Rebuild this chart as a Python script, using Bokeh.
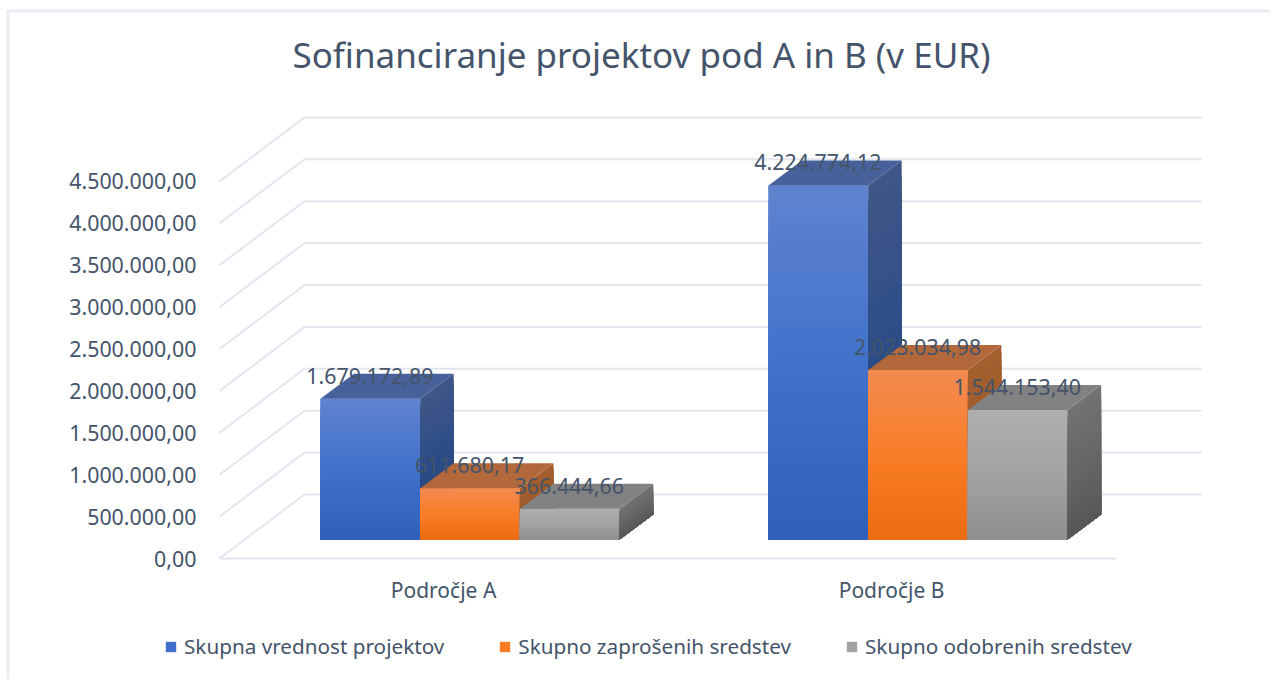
from bokeh.plotting import figure
from bokeh.embed import file_html
from bokeh.resources import INLINE
from bokeh.models import (Range1d, LinearAxis, FixedTicker, Label, Legend, LegendItem)
from bokeh.core.properties import value
import numpy as np

# ---------- data ----------
categories = ["Področje A", "Področje B"]
series_names = ["Skupna vrednost projektov", "Skupno zaprošenih sredstev", "Skupno odobrenih sredstev"]
vrednost = [1679172.89, 4224774.12]
zaprosena = [611680.17, 2023034.98]
odobrena = [366444.66, 1544153.40]
series_values = [vrednost, zaprosena, odobrena]
y_ticks = [0, 500000, 1000000, 1500000, 2000000, 2500000, 3000000, 3500000, 4000000, 4500000]

# ---------- layout (x and FLOOR_Y are in window pixels) ----------
PAGE = 0
W, H = 1270, 679
PX = 500000 / 41.9          # value units per screen pixel
FLOOR_Y = 558               # window y of value 0 at the front edge
FONT = "Noto Sans"
TXT = "#44546a"
GRID = "#e3e6ef"
GX0, GX1 = 219, 1116        # front edge of floor
DX, DY = 85, 64             # depth of the wall
BAR_W = 99.7
BAR_DX, BAR_DY = 33.5, 25   # depth of a bar
BASE = 19 * PX              # bars stand 19px behind the front edge
GROUP_LEFT = [320, 768]
CAT_SHIFT = 25.5
Y_TOP = (FLOOR_Y - PAGE) * PX
Y_BOT = -(PAGE + H - FLOOR_Y) * PX

FRONT = [("#5f82cf", "#3f71cb", "#2e60b8"), ("#f28b50", "#f97c26", "#e96c12"), ("#aeaeae", "#a2a2a2", "#8e8e8e")]
SIDE = [("#3f5788", "#2c4c88", "#25447c"), ("#a4602f", "#9a5727", "#8d4e20"), ("#727272", "#666666", "#565656")]
TOP = ["#47619b", "#b3683c", "#828282"]
MID = ["#3f71cb", "#f97c26", "#a2a2a2"]


def hex2rgb(c):
    return np.array([int(c[i:i + 2], 16) for i in (1, 3, 5)], float)


def grad(stops, t):
    a = [hex2rgb(s) for s in stops]
    rgb = [np.interp(t, [0, .5, 1], [a[0][k], a[1][k], a[2][k]]) for k in range(3)]
    return "#%02x%02x%02x" % tuple(int(round(v)) for v in rgb)


def lab(v, dec=2):
    s = f"{v:,.{dec}f}"
    return s.replace(",", "X").replace(".", ",").replace("X", ".")


p = figure(width=W, height=H, output_backend="svg", toolbar_location=None,
           x_range=Range1d(PAGE, PAGE + W), y_range=Range1d(Y_BOT, Y_TOP),
           x_axis_location=None, y_axis_location=None,
           min_border=0, min_border_left=0, min_border_right=0, min_border_top=0, min_border_bottom=0,
           outline_line_color=None, background_fill_color="white", border_fill_color="white")
p.grid.visible = False

# chart border
p.segment(x0=[7.5], x1=[7.5], y0=[(FLOOR_Y - 10) * PX], y1=[Y_BOT], line_color="#e9ecf4", line_width=3)
p.segment(x0=[6], x1=[PAGE + W], y0=[(FLOOR_Y - 10.5) * PX], y1=[(FLOOR_Y - 10.5) * PX],
          line_color="#e9ecf4", line_width=3)

# walls
ys = np.array(y_ticks, float)
p.segment(x0=[GX0 + DX] * len(ys), x1=[GX1 + DX] * len(ys), y0=ys + DY * PX, y1=ys + DY * PX,
          line_color=GRID, line_width=2)
p.segment(x0=[GX0] * len(ys), x1=[GX0 + DX] * len(ys), y0=ys, y1=ys + DY * PX,
          line_color=GRID, line_width=2)
p.segment(x0=[GX0], x1=[GX1], y0=[0], y1=[0], line_color=GRID, line_width=2)

# bars
legend_rs = [None] * 3
N = 24
for c, left in enumerate(GROUP_LEFT):
    for s, vals in enumerate(series_values):
        v = vals[c]
        x0, x1 = left + s * BAR_W, left + (s + 1) * BAR_W
        top = BASE + v
        sx, sy = BAR_DX, BAR_DY * PX
        r = p.quad(left=[x0], right=[x1], bottom=[BASE], top=[top], fill_color=MID[s], line_color=None)
        if legend_rs[s] is None:
            legend_rs[s] = r
        fr = np.linspace(1, 0, N, endpoint=False)
        # front and side gradients, painted from the top downwards
        p.quad(left=[x0] * N, right=[x1] * N, bottom=[BASE] * N, top=[BASE + v * f for f in fr],
               fill_color=[grad(FRONT[s], 1 - f) for f in fr], line_color=None)
        xs = [[x1, x1 + sx, x1 + sx, x1]] * N
        yy = [[BASE + v * f, BASE + v * f + sy, BASE + sy, BASE] for f in fr]
        p.patches(xs=xs, ys=yy, fill_color=[grad(SIDE[s], 1 - f) for f in fr], line_color=None)
        # top face
        p.patch(x=[x0, x1, x1 + sx, x0 + sx], y=[top, top, top + sy, top + sy],
                fill_color=TOP[s], line_color=None)

# data labels
lx, ly, lt = [], [], []
for c, left in enumerate(GROUP_LEFT):
    for s, vals in enumerate(series_values):
        lx.append(left + (s + .5) * BAR_W - 0.5)
        ly.append(BASE + vals[c])
        lt.append(lab(vals[c]))
p.text(x=lx, y=ly, text=lt, y_offset=-23, text_align="center", text_baseline="middle",
       text_color=TXT, text_font=value(FONT), text_font_size="21.4px")

# axes
ya = LinearAxis(fixed_location=205, ticker=FixedTicker(ticks=y_ticks),
                major_label_overrides={t: lab(t) for t in y_ticks},
                axis_line_color=None, major_tick_line_color=None, minor_tick_line_color=None,
                major_tick_out=0, major_tick_in=0, minor_tick_out=0, minor_tick_in=0,
                major_label_standoff=9, major_label_text_color=TXT,
                major_label_text_font=FONT, major_label_text_font_size="21.4px")
p.add_layout(ya, "left")

cat_x = [left + 1.5 * BAR_W - CAT_SHIFT - 1 for left in GROUP_LEFT]
xa = LinearAxis(fixed_location=-(575 - FLOOR_Y) * PX, ticker=FixedTicker(ticks=cat_x),
                major_label_overrides={cx: n for cx, n in zip(cat_x, categories)},
                axis_line_color=None, major_tick_line_color=None, minor_tick_line_color=None,
                major_tick_out=0, major_tick_in=0, minor_tick_out=0, minor_tick_in=0,
                major_label_standoff=0, major_label_text_color=TXT,
                major_label_text_font=FONT, major_label_text_font_size="21px")
p.add_layout(xa, "below")

# title
p.add_layout(Label(x=641, y=(FLOOR_Y - 54) * PX, text="Sofinanciranje projektov pod A in B (v EUR)",
                   text_align="center", text_baseline="middle", text_color=TXT,
                   text_font=FONT, text_font_size="35px"))

# legend
legend = Legend(items=[LegendItem(label=n, renderers=[legend_rs[i]]) for i, n in enumerate(series_names)],
                orientation="horizontal", location=(164 - PAGE, PAGE + H - 660), spacing=54,
                glyph_width=13, glyph_height=13, label_standoff=7, padding=0, margin=0,
                border_line_color=None, background_fill_alpha=0,
                label_text_color=TXT, label_text_font=FONT, label_text_font_size="20.7px")
p.add_layout(legend, "center")

open("out.html", "w").write(file_html(p, INLINE))
